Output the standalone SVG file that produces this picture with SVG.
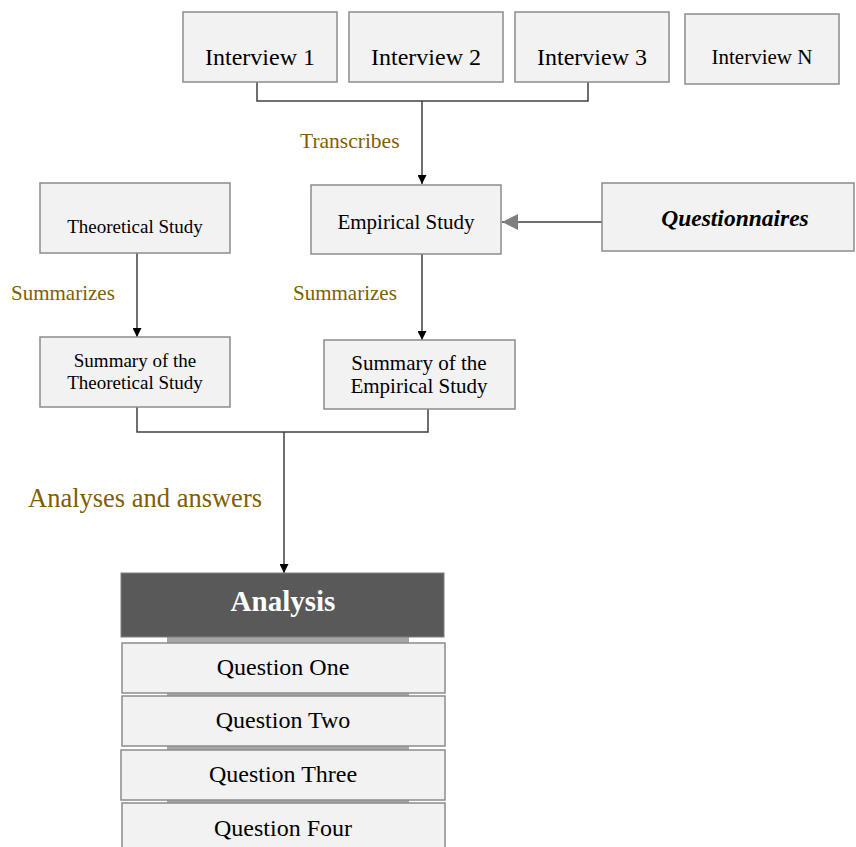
<svg xmlns="http://www.w3.org/2000/svg" width="856" height="847" viewBox="0 0 856 847">
  <style>
    text { font-family: "Liberation Serif", "Times New Roman", serif; text-anchor: middle; fill: #000; }
    .box { fill: #f2f2f2; stroke: #8c8c8c; stroke-width: 1.5; }
    .lbl { fill: #7f6000; text-anchor: start; }
    .wire { fill: none; stroke: #404040; stroke-width: 1.5; }
    .bar { fill: #a6a6a6; }
  </style>
  <defs>
    <marker id="arrow" viewBox="0 0 10 10" refX="10" refY="5" markerWidth="9" markerHeight="9" orient="auto" markerUnits="userSpaceOnUse">
      <path d="M0,0 L10,5 L0,10 z" fill="#000"/>
    </marker>
    <marker id="arrowGray" viewBox="0 0 10 10" refX="10" refY="5" markerWidth="16" markerHeight="16" orient="auto" markerUnits="userSpaceOnUse">
      <path d="M0,0 L10,5 L0,10 z" fill="#7f7f7f"/>
    </marker>
  </defs>
  <rect width="856" height="847" fill="#fff"/>

  <!-- connectors -->
  <g id="connectors">
    <path class="wire" d="M257,82 V101 H588 V82"/>
    <path class="wire" d="M422,101 V184" marker-end="url(#arrow)"/>
    <path class="wire" d="M602,222 H502" stroke="#7f7f7f" marker-end="url(#arrowGray)"/>
    <path class="wire" d="M137,253 V337" marker-end="url(#arrow)"/>
    <path class="wire" d="M422,254 V340" marker-end="url(#arrow)"/>
    <path class="wire" d="M137,407 V432 H428 V409"/>
    <path class="wire" d="M284,432 V573" marker-end="url(#arrow)"/>
  </g>

  <!-- edge labels -->
  <g id="labels">
    <text class="lbl" x="300" y="148" font-size="21.5">Transcribes</text>
    <text class="lbl" x="11" y="300" font-size="21">Summarizes</text>
    <text class="lbl" x="293" y="300" font-size="21">Summarizes</text>
    <text class="lbl" x="28" y="507" font-size="26.5">Analyses and answers</text>
  </g>

  <g id="interview1">
    <rect class="box" x="183" y="12" width="154" height="70"/>
    <text x="260" y="65" font-size="24">Interview 1</text>
  </g>
  <g id="interview2">
    <rect class="box" x="349" y="12" width="154" height="70"/>
    <text x="426" y="65" font-size="24">Interview 2</text>
  </g>
  <g id="interview3">
    <rect class="box" x="515" y="12" width="154" height="70"/>
    <text x="592" y="65" font-size="24">Interview 3</text>
  </g>
  <g id="interviewN">
    <rect class="box" x="685" y="14" width="154" height="70"/>
    <text x="762" y="64" font-size="21">Interview N</text>
  </g>

  <g id="theoretical-study">
    <rect class="box" x="40" y="183" width="190" height="70"/>
    <text x="135" y="233" font-size="19">Theoretical Study</text>
  </g>
  <g id="empirical-study">
    <rect class="box" x="311" y="185" width="190" height="69"/>
    <text x="406" y="229" font-size="21">Empirical Study</text>
  </g>
  <g id="questionnaires">
    <rect class="box" x="602" y="183" width="252" height="68"/>
    <text x="735" y="226" font-size="23.5" font-weight="bold" font-style="italic">Questionnaires</text>
  </g>

  <g id="summary-theoretical">
    <rect class="box" x="40" y="337" width="190" height="70"/>
    <text x="135" y="367" font-size="19">Summary of the</text>
    <text x="135" y="389" font-size="19">Theoretical Study</text>
  </g>
  <g id="summary-empirical">
    <rect class="box" x="324" y="340" width="191" height="69"/>
    <text x="419" y="370" font-size="21">Summary of the</text>
    <text x="419" y="393" font-size="21">Empirical Study</text>
  </g>

  <g id="analysis">
    <rect x="167" y="636" width="242" height="8" class="bar"/>
    <rect x="167" y="692" width="242" height="5" class="bar"/>
    <rect x="167" y="745" width="242" height="6" class="bar"/>
    <rect x="167" y="799" width="242" height="5" class="bar"/>
    <rect x="121" y="573" width="323" height="64" fill="#595959" stroke="#808080" stroke-width="1"/>
    <text x="283" y="611" font-size="29" font-weight="bold" style="fill:#fff">Analysis</text>
  </g>
  <g id="question-one">
    <rect class="box" x="122" y="643" width="323" height="50"/>
    <text x="283" y="675" font-size="24">Question One</text>
  </g>
  <g id="question-two">
    <rect class="box" x="122" y="696" width="323" height="50"/>
    <text x="283" y="728" font-size="24">Question Two</text>
  </g>
  <g id="question-three">
    <rect class="box" x="121" y="750" width="324" height="50"/>
    <text x="283" y="782" font-size="24">Question Three</text>
  </g>
  <g id="question-four">
    <rect class="box" x="122" y="803" width="323" height="50"/>
    <text x="283" y="836" font-size="24">Question Four</text>
  </g>
</svg>
